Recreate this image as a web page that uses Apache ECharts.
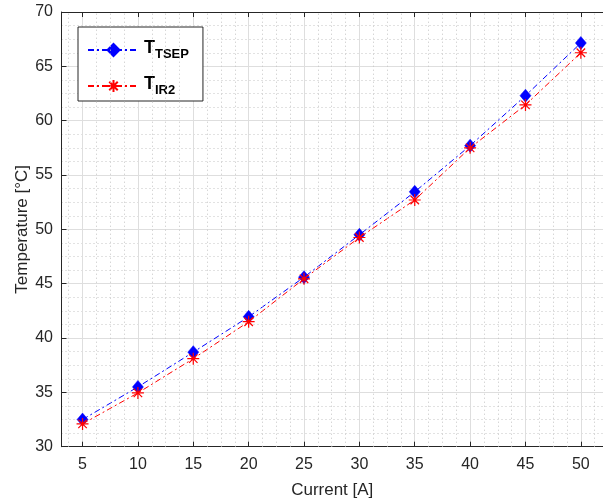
<!DOCTYPE html>
<html>
<head>
<meta charset="utf-8">
<script src="https://cdn.jsdelivr.net/npm/echarts@6/dist/echarts.min.js"></script>
<style>
html,body{margin:0;padding:0;background:#fff;}
#chart{width:603px;height:504px;}
</style>
</head>
<body>
<div id="chart"></div>
<script>
// ---- data ----
const current = [5, 10, 15, 20, 25, 30, 35, 40, 45, 50];
const tTSEP = [32.5, 35.5, 38.7, 41.95, 45.6, 49.5, 53.45, 57.7, 62.3, 67.15];
const tIR2  = [32.1, 34.95, 38.1, 41.5, 45.45, 49.25, 52.7, 57.5, 61.45, 66.25];
const xTicks = [5, 10, 15, 20, 25, 30, 35, 40, 45, 50];
const yTicks = [30, 35, 40, 45, 50, 55, 60, 65, 70];
const seriesNames = ['TSEP', 'IR2'];

// minor x grid positions (quarters of the major step)
const xMinorGrid = [];
const step = xTicks[1] - xTicks[0];
for (let k = xTicks[0] - step; k <= xTicks[xTicks.length - 1]; k += step) {
  for (let j = 1; j < 4; j++) {
    const v = k + j * step / 4;
    if (v > 3.1 && v < 52) xMinorGrid.push(v);
  }
}

const axisColor = '#262626';
const font = '"Liberation Sans", Arial, Helvetica, sans-serif';
const starPath = 'path://M0,-10L0,10M-10,0L10,0M-7.07,-7.07L7.07,7.07M-7.07,7.07L7.07,-7.07';

const chart = echarts.init(document.getElementById('chart'), null, {renderer: 'canvas'});
const option = {
  animation: false,
  backgroundColor: '#fff',
  textStyle: {fontFamily: font},
  grid: {left: 61.5, top: 12, width: 549.8, bottom: 57.3, containLabel: false},
  xAxis: [{
    type: 'value', min: 3.1, max: 52, splitNumber: 10,
    position: 'bottom',
    name: 'Current [A]', nameLocation: 'middle', nameGap: 35,
    nameTextStyle: {color: axisColor, fontSize: 17, fontFamily: font},
    axisLine: {show: true, lineStyle: {color: axisColor, width: 1}},
    axisTick: {show: true, inside: true, length: 5, lineStyle: {color: axisColor}},
    axisLabel: {color: axisColor, fontSize: 16, margin: 10, fontFamily: font,
      showMinLabel: false, showMaxLabel: false},
    splitLine: {show: true, lineStyle: {color: '#dedede', width: 1}},
    minorTick: {show: false}, minorSplitLine: {show: false}
  }, {
    type: 'value', min: 3.1, max: 52, splitNumber: 10,
    position: 'top',
    axisLine: {show: true, lineStyle: {color: axisColor, width: 1}},
    axisTick: {show: true, inside: true, length: 5, lineStyle: {color: axisColor}},
    axisLabel: {show: false},
    splitLine: {show: false}
  }],
  yAxis: {
    type: 'value', min: yTicks[0], max: yTicks[yTicks.length - 1], interval: 5,
    name: 'Temperature [°C]', nameLocation: 'middle', nameGap: 31,
    nameMoveOverlap: false,
    nameTextStyle: {color: axisColor, fontSize: 17, fontFamily: font},
    axisLine: {show: true, lineStyle: {color: axisColor, width: 1}},
    axisTick: {show: true, inside: true, length: 5, lineStyle: {color: axisColor}},
    axisLabel: {color: axisColor, fontSize: 16, margin: 8.5, fontFamily: font},
    splitLine: {show: true, lineStyle: {color: '#dedede', width: 1}},
    minorTick: {show: false, splitNumber: 4},
    minorSplitLine: {show: true, lineStyle: {color: '#c4c4c4', width: 1, type: [1, 3]}}
  },
  legend: {
    data: seriesNames,
    orient: 'vertical',
    left: 78, top: 27,
    padding: [12, 14, 4, 9],
    itemWidth: 51, itemHeight: 15, itemGap: 14,
    backgroundColor: '#fff',
    borderColor: axisColor, borderWidth: 1,
    formatter: function (name) { return '{t|T}{s|' + name + '}'; },
    textStyle: {
      color: '#000',
      rich: {
        t: {fontSize: 18, fontWeight: 'bold', fontFamily: font, lineHeight: 22, verticalAlign: 'top'},
        s: {fontSize: 13, fontWeight: 'bold', fontFamily: font, lineHeight: 12, verticalAlign: 'bottom'}
      }
    }
  },
  series: [{
    type: 'line', name: 'grid-minor', data: [], z: 1, silent: true,
    markLine: {
      silent: true, symbol: ['none', 'none'], label: {show: false},
      lineStyle: {color: '#c4c4c4', width: 1, type: [1, 3]},
      data: xMinorGrid.map(v => ({xAxis: v}))
    }
  }, {
    type: 'line', name: seriesNames[0], z: 3,
    data: current.map((c, i) => [c, tTSEP[i]]),
    symbol: 'diamond', symbolSize: [11, 13],
    lineStyle: {color: '#0000ff', width: 1, type: [6, 3, 2, 3]},
    itemStyle: {color: '#0000ff', borderColor: '#0000ff', borderWidth: 0.5}
  }, {
    type: 'line', name: seriesNames[1], z: 4,
    data: current.map((c, i) => [c, tIR2[i]]),
    symbol: starPath, symbolSize: 12,
    lineStyle: {color: '#ff0000', width: 1, type: [6, 3, 2, 3]},
    itemStyle: {color: '#ff0000', borderColor: '#ff0000', borderWidth: 1.2}
  }]
};
chart.setOption(option);
</script>
</body>
</html>
